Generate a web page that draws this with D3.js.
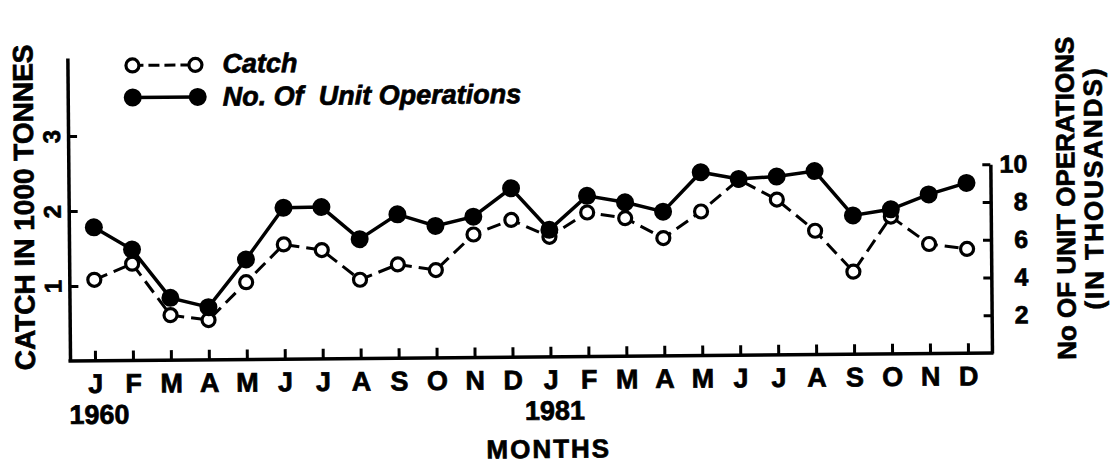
<!DOCTYPE html>
<html>
<head>
<meta charset="utf-8">
<script src="https://cdn.jsdelivr.net/npm/d3@7"></script>
<style>
body { margin: 0; background: #fff; }
text { font-family: "Liberation Sans", Arial, sans-serif; font-weight: bold; fill: #000; stroke: #000; stroke-width: 0.7px; }
</style>
</head>
<body>
<script>

var w = 1113, h = 466;

// months Jan 1960 .. Dec 1981 as printed on the axis
var monthLabels = ["J","F","M","A","M","J","J","A","S","O","N","D",
                   "J","F","M","A","M","J","J","A","S","O","N","D"];
var yearLabels = ["1960", "1981"];
var yearStart = [0, 12];

// catch, 1000 tonnes (left axis)
var catchTonnes = [1.08, 1.29, 0.60, 0.53, 1.03, 1.53, 1.45, 1.05, 1.25, 1.17, 1.64, 1.83,
                   1.60, 1.92, 1.84, 1.57, 1.92, 2.34, 2.07, 1.65, 1.10, 1.83, 1.46, 1.39];
// unit operations, thousands (right axis)
var unitOps = [7.07, 5.88, 3.30, 2.79, 5.30, 8.02, 8.04, 6.32, 7.62, 6.99, 7.46, 8.95,
               6.73, 8.51, 8.15, 7.64, 9.71, 9.34, 9.45, 9.72, 7.35, 7.66, 8.43, 9.02];

var leftTicks = [1, 2, 3];
var rightTicks = [2, 4, 6, 8, 10];

var axisLeftX = 70, axisRightX = 992;

var svg = d3.select("body")
			.append("svg")
			.attr("width", w)
			.attr("height", h);

// the scanned figure sits a little askew
var chart = svg.append("g").attr("transform", "rotate(-0.5, 530, 357)");

var xScale = d3.scalePoint()
				.domain(d3.range(monthLabels.length))
				.range([95, 968]);

var yLeft = d3.scaleLinear()
				.domain([0, 4.04])
				.range([357, 54]);

var yRight = d3.scaleLinear()
				.domain([0, 10])
				.range([357, 168.25]);

// left axis
var gLeft = chart.append("g")
	.attr("transform", `translate(${axisLeftX},0)`)
	.call(d3.axisLeft(yLeft).tickValues(leftTicks).tickSize(-9).tickSizeOuter(0).tickFormat(d3.format("d")));

gLeft.selectAll("text")
	.attr("x", 0).attr("y", 0).attr("dy", null)
	.attr("text-anchor", "middle")
	.attr("font-size", 24)
	.attr("transform", "translate(-8,0) rotate(-90)");

// right axis
var gRight = chart.append("g")
	.attr("transform", `translate(${axisRightX},0)`)
	.call(d3.axisRight(yRight).tickValues(rightTicks).tickSize(-8).tickSizeOuter(0));

gRight.selectAll("text")
	.attr("x", 37)
	.attr("text-anchor", "end")
	.attr("font-size", 25);

// bottom axis
var gBottom = chart.append("g")
	.attr("transform", `translate(0,${yLeft(0)})`)
	.call(d3.axisBottom(xScale).tickSize(-10).tickPadding(13).tickFormat(i => monthLabels[i]));

gBottom.select(".domain").remove();
gBottom.selectAll("text").attr("font-size", 27);

chart.append("line")
	.attr("x1", axisLeftX - 1.5).attr("x2", axisRightX + 1.5)
	.attr("y1", yLeft(0)).attr("y2", yLeft(0))
	.attr("stroke", "#000").attr("stroke-width", 3.5);

chart.selectAll(".domain").attr("stroke-width", 3.5);
chart.selectAll(".tick line").attr("stroke-width", 3);
chart.selectAll(".tick text").attr("font-family", null).attr("fill", "#000");

// year labels under the first January of each year
chart.selectAll(".year")
	.data(yearLabels)
	.enter()
	.append("text")
	.attr("class", "year")
	.attr("x", (d, i) => xScale(yearStart[i]) + 4)
	.attr("y", 420)
	.attr("text-anchor", "middle")
	.attr("font-size", 27)
	.text(d => d);

chart.append("text")
	.attr("x", 548).attr("y", 458)
	.attr("text-anchor", "middle")
	.attr("font-size", 26)
	.attr("letter-spacing", 2)
	.text("MONTHS");

chart.append("text")
	.attr("transform", "translate(35,203) rotate(-90)")
	.attr("text-anchor", "middle")
	.attr("font-size", 28)
	.text("CATCH IN 1000 TONNES");

chart.append("text")
	.attr("transform", "translate(1076,203) rotate(-90)")
	.attr("text-anchor", "middle")
	.attr("font-size", 26)
	.text("No OF UNIT OPERATIONS");

chart.append("text")
	.attr("transform", "translate(1104,193) rotate(-90)")
	.attr("text-anchor", "middle")
	.attr("font-size", 26)
	.attr("letter-spacing", 2)
	.text("(IN THOUSANDS)");

// catch series, dashed with open circles
var catchLine = d3.line()
	.x((d, i) => xScale(i))
	.y(d => yLeft(d));

chart.append("path")
	.datum(catchTonnes)
	.attr("d", catchLine)
	.attr("fill", "none")
	.attr("stroke", "#000")
	.attr("stroke-width", 3)
	.attr("stroke-dasharray", "14,7");

chart.selectAll(".catchPt")
	.data(catchTonnes)
	.enter()
	.append("circle")
	.attr("class", "catchPt")
	.attr("cx", (d, i) => xScale(i))
	.attr("cy", d => yLeft(d))
	.attr("r", 6.5)
	.attr("fill", "#fff")
	.attr("stroke", "#000")
	.attr("stroke-width", 3.2);

// unit operations series, solid with filled circles
var opsLine = d3.line()
	.x((d, i) => xScale(i))
	.y(d => yRight(d));

chart.append("path")
	.datum(unitOps)
	.attr("d", opsLine)
	.attr("fill", "none")
	.attr("stroke", "#000")
	.attr("stroke-width", 3.5);

chart.selectAll(".opsPt")
	.data(unitOps)
	.enter()
	.append("circle")
	.attr("class", "opsPt")
	.attr("cx", (d, i) => xScale(i))
	.attr("cy", d => yRight(d))
	.attr("r", 9)
	.attr("fill", "#000");

// legend
var legend = chart.append("g").attr("transform", "translate(135,62)");

legend.append("line")
	.attr("x1", 0).attr("x2", 63).attr("y1", 0).attr("y2", 0)
	.attr("stroke", "#000").attr("stroke-width", 3)
	.attr("stroke-dasharray", "11,5");
legend.selectAll(".lc")
	.data([0, 63])
	.enter()
	.append("circle")
	.attr("cx", d => d).attr("cy", 0).attr("r", 6.5)
	.attr("fill", "#fff").attr("stroke", "#000").attr("stroke-width", 3.2);
legend.append("text")
	.attr("x", 90).attr("y", 8)
	.attr("font-size", 27)
	.attr("font-style", "italic")
	.text("Catch");

legend.append("line")
	.attr("x1", 0).attr("x2", 65).attr("y1", 32).attr("y2", 32)
	.attr("stroke", "#000").attr("stroke-width", 3.5);
legend.selectAll(".lo")
	.data([0, 65])
	.enter()
	.append("circle")
	.attr("cx", d => d).attr("cy", 32).attr("r", 9)
	.attr("fill", "#000");
legend.append("text")
	.attr("x", 90).attr("y", 41)
	.attr("font-size", 27)
	.attr("font-style", "italic")
	.attr("xml:space", "preserve")
	.style("white-space", "pre")
	.text("No. Of  Unit Operations");

</script>
</body>
</html>
